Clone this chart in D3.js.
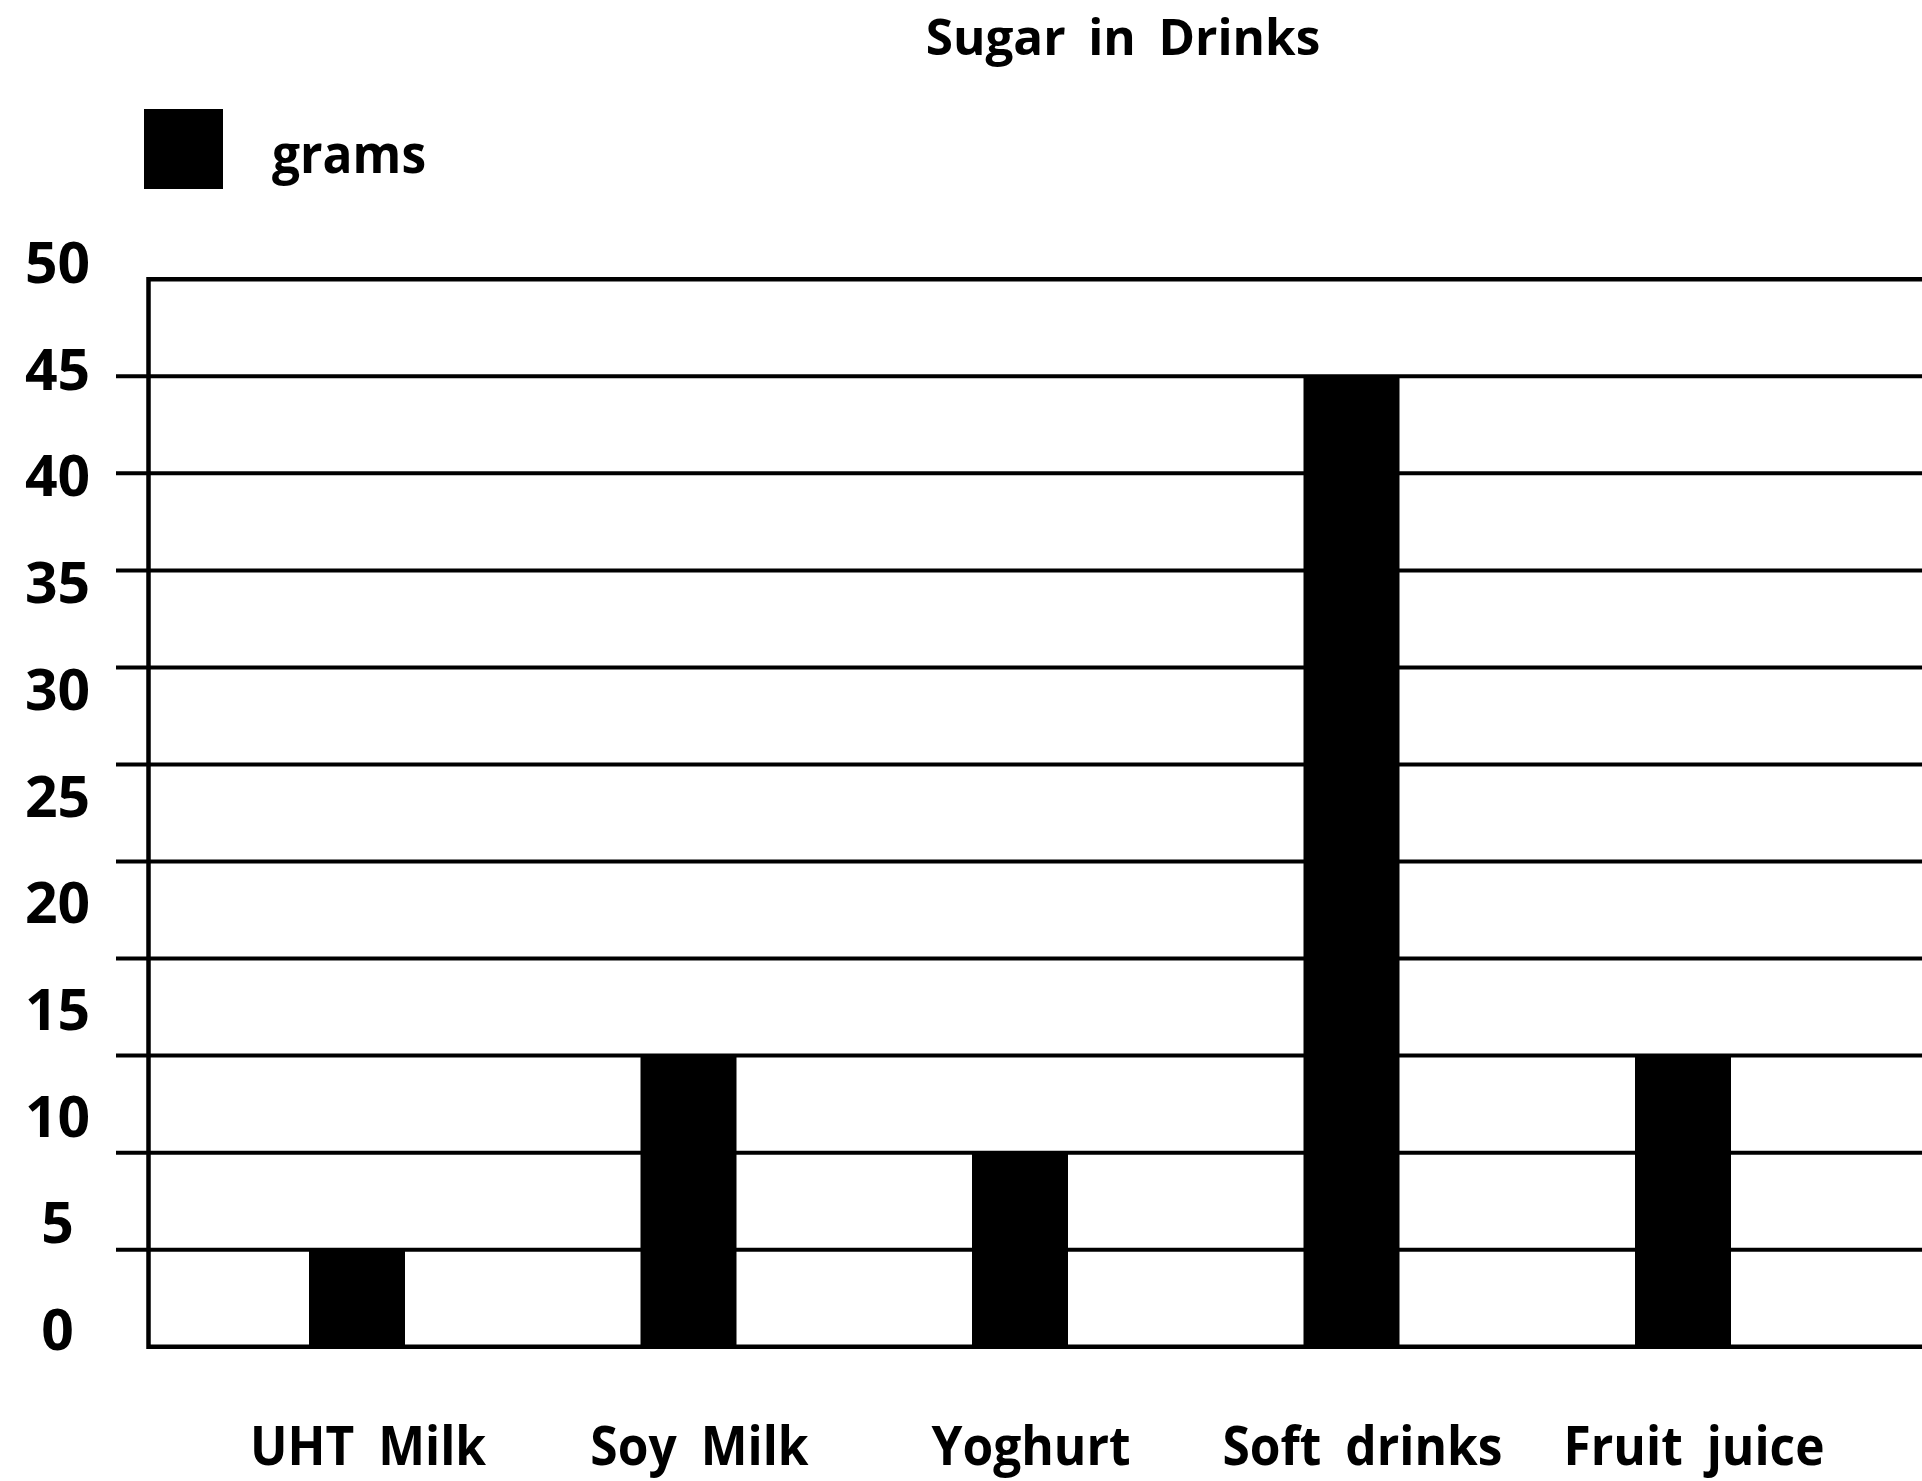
<!DOCTYPE html>
<html>
<head>
<meta charset="utf-8">
<script src="https://cdn.jsdelivr.net/npm/d3@7"></script>
<style>
  html, body { margin: 0; padding: 0; background: #fff; }
  svg { display: block; }
  text { font-family: "Open Sans", "Noto Sans", sans-serif; font-weight: 700; fill: #000; }
</style>
</head>
<body>
<svg id="chart"></svg>
<script>
// ---- data ----
const title = "Sugar in Drinks";
const seriesName = "grams";
const categories = ["UHT Milk", "Soy Milk", "Yoghurt", "Soft drinks", "Fruit juice"];
const grams = [4.5, 13.6, 9.1, 45.5, 13.6];
const tickLabels = [0, 5, 10, 15, 20, 25, 30, 35, 40, 45, 50];
const gridDivisions = 11; // the drawn grid has 11 equal bands between the frame edges

// ---- layout ----
const W = 1922, H = 1481;
const plotLeft = 148.5, plotTop = 279.3, plotBottom = 1346.7, plotRight = W + 10;
const svg = d3.select("#chart").attr("width", W).attr("height", H);

const y = d3.scaleLinear().domain([0, 50]).range([plotBottom, plotTop]);
const gridY = d3.scaleLinear().domain([0, gridDivisions]).range([plotBottom, plotTop]);
const x = d3.scalePoint().domain(categories).range([357, 1683]);
const barW = 96;

// helper: horizontally condensed text anchored at (cx, by)
function condensed(sel, sx) {
  return sel.attr("transform", function () {
    const cx = +this.getAttribute("data-x"), by = +this.getAttribute("data-y");
    return `translate(${cx},${by}) scale(${sx},1)`;
  });
}

// title
condensed(svg.append("text").attr("data-x", 1123).attr("data-y", 55)
  .attr("text-anchor", "middle").style("font-size", "51px").style("word-spacing", "10px")
  .text(title), 0.97);

// legend
svg.append("rect").attr("x", 144).attr("y", 109).attr("width", 79).attr("height", 80).attr("fill", "#000");
condensed(svg.append("text").attr("data-x", 272).attr("data-y", 172.5)
  .style("font-size", "54px").text(seriesName), 0.92);

// grid lines (with ticks extending left of the frame)
const inner = d3.range(1, gridDivisions);
svg.append("g").selectAll("line").data(inner).join("line")
  .attr("x1", 116).attr("x2", plotRight)
  .attr("y1", d => gridY(d)).attr("y2", d => gridY(d))
  .attr("stroke", "#000").attr("stroke-width", 4);

// frame: top, left, bottom
const frame = d3.path();
frame.moveTo(plotRight, gridY(gridDivisions));
frame.lineTo(plotLeft, gridY(gridDivisions));
frame.lineTo(plotLeft, gridY(0));
frame.lineTo(plotRight, gridY(0));
svg.append("path").attr("d", frame.toString()).attr("fill", "none")
  .attr("stroke", "#000").attr("stroke-width", 4.5);

// bars
svg.append("g").selectAll("rect").data(categories).join("rect")
  .attr("x", d => x(d) - barW / 2)
  .attr("width", barW)
  .attr("y", (d, i) => y(grams[i]))
  .attr("height", (d, i) => y(0) - y(grams[i]))
  .attr("fill", "#000");

// y tick labels
svg.append("g").selectAll("text").data(tickLabels).join("text")
  .attr("x", 57.5).attr("y", d => y(d) - 18.5)
  .attr("text-anchor", "middle").attr("dominant-baseline", "central")
  .style("font-size", "57px")
  .text(d => d);

// category labels
condensed(svg.append("g").selectAll("text").data(categories).join("text")
  .attr("data-x", d => x(d) + 11).attr("data-y", 1465)
  .attr("text-anchor", "middle").style("font-size", "54px").style("word-spacing", "12px")
  .text(d => d), 0.92);
</script>
</body>
</html>
